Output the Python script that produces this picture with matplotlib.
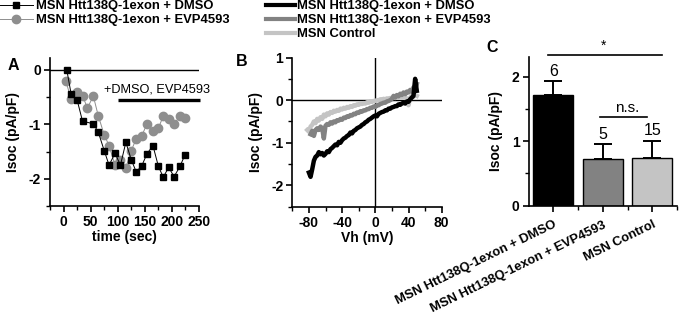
import matplotlib
matplotlib.use("Agg")
import matplotlib.pyplot as plt
from matplotlib.ticker import FixedLocator
import numpy as np

plt.rcParams['font.family'] = ['Liberation Sans', 'DejaVu Sans']
plt.rcParams['axes.unicode_minus'] = False

# ---------------- Panel A data ----------------
time_dmso = [6, 14, 25, 35, 55, 64, 75, 84, 95, 105, 115, 125, 134, 144, 154, 165, 175, 184, 194, 204, 215, 224]
isoc_dmso = [0.0, -0.44, -0.55, -0.94, -0.99, -1.14, -1.48, -1.75, -1.53, -1.75, -1.33, -1.65, -1.87, -1.77,
             -1.54, -1.39, -1.77, -1.97, -1.79, -1.96, -1.77, -1.56]
time_evp = [4, 14, 25, 35, 44, 55, 64, 75, 84, 95, 104, 115, 125, 134, 144, 154, 165, 175, 184, 194, 204, 215, 224]
isoc_evp = [-0.20, -0.53, -0.41, -0.47, -0.70, -0.48, -0.84, -1.19, -1.39, -1.75, -1.65, -1.80, -1.48, -1.27,
            -1.22, -0.99, -1.12, -1.07, -0.85, -0.90, -0.99, -0.85, -0.88]
label_dmso = "MSN Htt138Q-1exon + DMSO"
label_evp = "MSN Htt138Q-1exon + EVP4593"
label_ctrl = "MSN Control"

# ---------------- Panel B data ----------------
vh_dmso = list(range(-80, 52, 2))
iv_dmso = [-1.70, -1.80, -1.62, -1.42, -1.33, -1.30, -1.22, -1.27, -1.24, -1.30, -1.26, -1.20, -1.22, -1.15,
           -1.12, -1.08, -1.04, -1.06, -0.98, -1.00, -0.94, -0.90, -0.88, -0.84, -0.82, -0.76, -0.78, -0.72,
           -0.70, -0.66, -0.64, -0.62, -0.58, -0.56, -0.52, -0.50, -0.46, -0.44, -0.41, -0.38, -0.36, -0.38,
           -0.32, -0.30, -0.28, -0.27, -0.24, -0.24, -0.20, -0.20, -0.17, -0.16, -0.14, -0.14, -0.10, -0.11,
           -0.08, -0.06, -0.08, -0.03, -0.04, 0.02, 0.06, 0.10, 0.50, 0.22]
vh_evp = list(range(-78, 52, 2))
iv_evp = [-0.80, -0.72, -0.84, -0.70, -0.66, -0.70, -0.62, -0.66, -0.90, -0.60, -0.56, -0.58, -0.52, -0.55,
          -0.50, -0.52, -0.47, -0.48, -0.44, -0.46, -0.41, -0.42, -0.38, -0.39, -0.35, -0.36, -0.32, -0.33,
          -0.29, -0.30, -0.26, -0.27, -0.24, -0.24, -0.21, -0.21, -0.18, -0.18, -0.15, -0.16, -0.12, -0.12,
          -0.09, -0.08, -0.06, -0.06, -0.03, -0.02, 0.00, 0.03, 0.10, 0.06, 0.12, 0.09, 0.15, 0.12, 0.18,
          0.14, 0.20, 0.18, 0.24, 0.20, 0.30, 0.26, 0.38]
vh_ctrl = list(range(-82, 52, 2))
iv_ctrl = [-0.70, -0.74, -0.62, -0.58, -0.50, -0.54, -0.44, -0.48, -0.40, -0.44, -0.34, -0.38, -0.31, -0.34,
           -0.28, -0.30, -0.25, -0.27, -0.23, -0.25, -0.20, -0.22, -0.18, -0.20, -0.16, -0.18, -0.14, -0.16,
           -0.12, -0.13, -0.10, -0.11, -0.08, -0.09, -0.07, -0.08, -0.05, -0.06, -0.03, -0.04, -0.02, -0.02,
           0.00, -0.01, 0.02, 0.01, 0.03, 0.02, 0.04, 0.03, 0.05, 0.04, 0.06, 0.05, 0.07, 0.06, 0.08, 0.07,
           0.09, 0.08, 0.02, -0.12, 0.06, 0.10, 0.08, 0.12, 0.10]

# ---------------- Panel C data ----------------
groups = [label_dmso, label_evp, label_ctrl]
bar_means = [1.71, 0.72, 0.74]
bar_sems = [0.22, 0.23, 0.27]
bar_n = ["6", "5", "15"]

c_black = "#000000"
c_dark = "#828282"
c_light = "#c4c4c4"
c_circle = "#8e8e8e"

W, H = 680, 312
fig = plt.figure(figsize=(W / 100, H / 100), dpi=100)

def ax_px(l, t, r, b):
    return fig.add_axes([l / W, 1 - b / H, (r - l) / W, (b - t) / H])

def style(ax):
    for s in ["top", "right"]:
        ax.spines[s].set_visible(False)
    for s in ["left", "bottom"]:
        ax.spines[s].set_linewidth(1.2)
    ax.tick_params(which="major", direction="out", length=4.5, width=1.2, labelsize=10, pad=2)
    ax.tick_params(which="minor", direction="out", length=3, width=1.0)
    for lab in ax.get_xticklabels() + ax.get_yticklabels():
        lab.set_fontweight("bold")

FS = 10

# ---------------- Panel A ----------------
axA = ax_px(50, 58, 199, 206)
axA.axhline(0, color="black", lw=1.0, zorder=1)
axA.plot(time_dmso, isoc_dmso, color="black", lw=0.7, marker="s", ms=5, mfc="black", mec="black",
         zorder=3, label=label_dmso)
axA.plot(time_evp, isoc_evp, color=c_circle, lw=0.7, marker="o", ms=6, mfc=c_circle, mec=c_circle,
         zorder=2, label=label_evp)
axA.plot([100, 252], [-0.55, -0.55], color="black", lw=2.4, solid_capstyle="butt", clip_on=False)
axA.text(75, -0.35, "+DMSO, EVP4593", fontsize=9.2, va="center", ha="left", clip_on=False)
axA.set_xlim(-25, 250)
axA.set_ylim(-2.5, 0.22)
axA.xaxis.set_major_locator(FixedLocator([0, 50, 100, 150, 200, 250]))
axA.xaxis.set_minor_locator(FixedLocator([-25, 25, 75, 125, 175, 225]))
axA.yaxis.set_major_locator(FixedLocator([0, -1, -2]))
axA.yaxis.set_minor_locator(FixedLocator([-0.5, -1.5, -2.5]))
style(axA)
axA.set_xlabel("time (sec)", fontsize=FS, fontweight="bold", labelpad=1)
axA.set_ylabel("Isoc (pA/pF)", fontsize=FS, fontweight="bold", labelpad=6)
fig.text(8 / W, 1 - 66 / H, "A", fontsize=11.5, fontweight="bold", va="center", ha="left")
axA.legend(loc="upper left", bbox_to_anchor=(0 / W, 1.0), bbox_transform=fig.transFigure,
           frameon=False, prop={"weight": "bold", "size": 9.4}, handlelength=2.5,
           handletextpad=0.25, labelspacing=0.15, borderpad=0.0, borderaxespad=0.0)

# ---------------- Panel B ----------------
axB = ax_px(292.3, 57.5, 441.7, 206.7)
axB.plot([-100, 80], [0, 0], color="black", lw=1.0, zorder=1)
axB.axvline(0, color="black", lw=1.0, zorder=1)
axB.plot(vh_ctrl, iv_ctrl, color=c_light, lw=3.2, zorder=2, label=label_ctrl)
axB.plot(vh_evp, iv_evp, color=c_dark, lw=3.2, zorder=3, label=label_evp)
axB.plot(vh_dmso, iv_dmso, color=c_black, lw=3.2, zorder=4, label=label_dmso)
axB.set_xlim(-100, 80)
axB.set_ylim(-2.5, 1.0)
axB.xaxis.set_major_locator(FixedLocator([-80, -40, 0, 40, 80]))
axB.xaxis.set_minor_locator(FixedLocator([-100, -60, -20, 20, 60]))
axB.yaxis.set_major_locator(FixedLocator([1, 0, -1, -2]))
axB.yaxis.set_minor_locator(FixedLocator([0.5, -0.5, -1.5, -2.5]))
style(axB)
axB.set_xlabel("Vh (mV)", fontsize=FS, fontweight="bold", labelpad=1)
axB.set_ylabel("Isoc (pA/pF)", fontsize=FS, fontweight="bold", labelpad=6)
fig.text(236 / W, 1 - 62 / H, "B", fontsize=11.5, fontweight="bold", va="center", ha="left")
hB, lB = axB.get_legend_handles_labels()
axB.legend(hB[::-1], lB[::-1], loc="upper left", bbox_to_anchor=(266 / W, 1.0),
           bbox_transform=fig.transFigure, frameon=False, prop={"weight": "bold", "size": 9.4},
           handlelength=2.2, handletextpad=0.2, labelspacing=0.15, borderpad=0.0, borderaxespad=0.0)
for lh in axB.get_legend().get_lines():
    lh.set_linewidth(3.0)

# ---------------- Panel C ----------------
axC = ax_px(528.5, 56.7, 677, 205.7)
xpos = np.arange(len(groups))
axC.bar(xpos, bar_means, width=0.8, color=[c_black, c_dark, c_light], edgecolor="black", lw=1.0, zorder=2)
axC.errorbar(xpos, bar_means, yerr=[np.zeros(len(bar_sems)), bar_sems], fmt="none", ecolor="black",
             elinewidth=1.4, capsize=6.5, capthick=1.4, zorder=3)
for xi, m, s, n in zip(xpos, bar_means, bar_sems, bar_n):
    axC.text(xi, m + s + 0.04, n, ha="center", va="bottom", fontsize=11.5)
axC.plot([-0.1, 2.19], [2.33, 2.33], color="black", lw=1.2, clip_on=False)
axC.text(1.02, 2.37, "*", ha="center", va="bottom", fontsize=10)
axC.plot([0.94, 1.89], [1.37, 1.37], color="black", lw=1.2)
axC.text(1.5, 1.4, "n.s.", ha="center", va="bottom", fontsize=11)
axC.set_xlim(-0.5, 2.5)
axC.set_ylim(0, 2.31)
axC.set_xticks(xpos)
axC.set_xticklabels(groups, rotation=26, ha="right", rotation_mode="anchor")
axC.xaxis.set_minor_locator(FixedLocator([0.5, 1.5, 2.5]))
axC.yaxis.set_major_locator(FixedLocator([0, 1, 2]))
axC.yaxis.set_minor_locator(FixedLocator([0.5, 1.5]))
style(axC)
axC.tick_params(axis="x", which="major", pad=5)
for lab in axC.get_xticklabels():
    lab.set_fontsize(9.4)
axC.set_ylabel("Isoc (pA/pF)", fontsize=FS, fontweight="bold", labelpad=6)
fig.text(486 / W, 1 - 47 / H, "C", fontsize=11.5, fontweight="bold", va="center", ha="left")

fig.savefig("out.png", dpi=100)
